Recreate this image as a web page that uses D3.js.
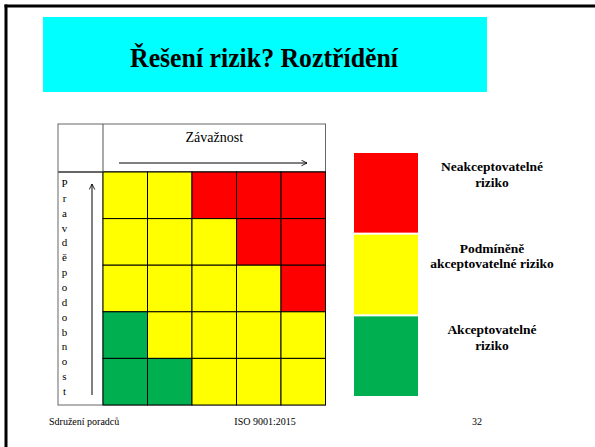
<!DOCTYPE html>
<html>
  <head>
    <title>Řešení rizik? Roztřídění</title>
    <script src="https://cdn.jsdelivr.net/npm/d3@7"></script>
    <style>
      html, body {
        margin:0;
        padding:0;
        background:#fff;
      }
      svg { display:block; }
    </style>
  </head>
  <body>
    <div id="chart"></div>
    <script>
      // matrix: rows = pravděpodobnost (top = high), columns = závažnost (left = low)
      var severity = [1, 2, 3, 4, 5];
      var probability = [5, 4, 3, 2, 1];
      var matrix = [
        ["Y", "Y", "R", "R", "R"],
        ["Y", "Y", "Y", "R", "R"],
        ["Y", "Y", "Y", "Y", "R"],
        ["G", "Y", "Y", "Y", "Y"],
        ["G", "G", "Y", "Y", "Y"]
      ];
      var levels = ["R", "Y", "G"];
      var levelColors = ["#ff0000", "#ffff00", "#00b050"];
      var levelLabels = [
        ["Neakceptovatelné", "riziko"],
        ["Podmíněně", "akceptovatelné riziko"],
        ["Akceptovatelné", "riziko"]
      ];
      var title = "Řešení rizik? Roztřídění";
      var xTitle = "Závažnost";
      var yTitle = "Pravděpodobnost";
      var footer = ["Sdružení poradců", "ISO 9001:2015", "32"];

      var FONT = "'Liberation Serif', 'Times New Roman', Times, serif";
      var W = 595, H = 447;
      var svg = d3.select("#chart").append("svg")
        .attr("width", W).attr("height", H)
        .style("font-family", FONT);

      var defs = svg.append("defs");
      defs.append("marker")
        .attr("id", "open")
        .attr("viewBox", "0 0 10 10")
        .attr("refX", 9).attr("refY", 5)
        .attr("markerWidth", 7).attr("markerHeight", 7)
        .attr("markerUnits", "userSpaceOnUse")
        .attr("orient", "auto")
        .append("path")
        .attr("d", "M1,1 L9,5 L1,9")
        .attr("fill", "none").attr("stroke", "#000").attr("stroke-width", 1.2);

      // slide frame (top and left visible)
      svg.append("line").attr("x1", 4.5).attr("x2", W).attr("y1", 6).attr("y2", 6)
        .attr("stroke", "#000").attr("stroke-width", 3);
      svg.append("line").attr("x1", 6).attr("x2", 6).attr("y1", 4.5).attr("y2", H)
        .attr("stroke", "#000").attr("stroke-width", 3);

      // title box
      svg.append("rect").attr("x", 43).attr("y", 17).attr("width", 444).attr("height", 75)
        .attr("fill", "#00ffff");
      svg.append("text").attr("x", 264).attr("y", 67)
        .attr("text-anchor", "middle").attr("font-weight", "bold").attr("font-size", 27.5)
        .attr("textLength", 268).attr("lengthAdjust", "spacingAndGlyphs")
        .style("font-family", FONT)
        .text(title);

      // matrix table
      var tbl = { left: 58, top: 124, gx: 103, gy: 172, right: 325.5, bottom: 405 };

      var x = d3.scaleBand().domain(severity).range([tbl.gx, tbl.right]);
      var y = d3.scaleBand().domain(probability).range([tbl.gy, tbl.bottom]);

      svg.append("rect")
        .attr("x", tbl.left).attr("y", tbl.top)
        .attr("width", tbl.right - tbl.left).attr("height", tbl.bottom - tbl.top)
        .attr("fill", "#fff").attr("stroke", "#666").attr("stroke-width", 1);
      svg.append("line").attr("x1", tbl.gx).attr("x2", tbl.gx).attr("y1", tbl.top).attr("y2", tbl.bottom)
        .attr("stroke", "#555").attr("stroke-width", 1);
      svg.append("line").attr("x1", tbl.left).attr("x2", tbl.right).attr("y1", tbl.gy).attr("y2", tbl.gy)
        .attr("stroke", "#666").attr("stroke-width", 2);

      var cells = [];
      probability.forEach(function(p, i) {
        severity.forEach(function(s, j) {
          cells.push({ p: p, s: s, level: matrix[i][j] });
        });
      });
      var color = d3.scaleOrdinal().domain(levels).range(levelColors);

      svg.append("g").selectAll("rect").data(cells).join("rect")
        .attr("x", function(d) { return x(d.s); })
        .attr("y", function(d) { return y(d.p); })
        .attr("width", x.bandwidth())
        .attr("height", y.bandwidth())
        .attr("fill", function(d) { return color(d.level); })
        .attr("stroke", "#000").attr("stroke-width", 1);

      // header: Závažnost + arrow
      svg.append("text").attr("x", (tbl.gx + tbl.right) / 2).attr("y", 142)
        .attr("text-anchor", "middle").attr("font-size", 14)
        .style("font-family", FONT)
        .text(xTitle);
      svg.append("line").attr("x1", 119).attr("x2", 307).attr("y1", 163).attr("y2", 163)
        .attr("stroke", "#000").attr("stroke-width", 1)
        .attr("marker-end", "url(#open)");

      // side: Pravděpodobnost letters stacked
      var letters = Array.from(yTitle);
      var ly = d3.scalePoint().domain(d3.range(letters.length)).range([183, 391]);
      svg.append("g").selectAll("text").data(letters).join("text")
        .attr("x", 64.5)
        .attr("y", function(d, i) { return ly(i) + 4; })
        .attr("text-anchor", "middle").attr("font-size", 11)
        .style("font-family", FONT)
        .text(function(d) { return d; });
      svg.append("line").attr("x1", 92).attr("x2", 92).attr("y1", 395).attr("y2", 184)
        .attr("stroke", "#000").attr("stroke-width", 1)
        .attr("marker-end", "url(#open)");

      // legend
      var lg = d3.scaleBand().domain(levels).range([153, 396]).paddingInner(0.025);
      svg.append("g").selectAll("rect").data(levels).join("rect")
        .attr("x", 354).attr("width", 64)
        .attr("y", function(d) { return lg(d); })
        .attr("height", lg.bandwidth())
        .attr("fill", function(d) { return color(d); });

      var lt = svg.append("g").selectAll("text").data(levels).join("text")
        .attr("x", 492)
        .attr("y", function(d) { return lg(d) + 18; })
        .attr("text-anchor", "middle").attr("font-weight", "bold").attr("font-size", 13.5)
        .style("font-family", FONT);
      lt.selectAll("tspan").data(function(d, i) { return levelLabels[i]; }).join("tspan")
        .attr("x", 492)
        .attr("dy", function(d, i) { return i ? 15.5 : 0; })
        .text(function(d) { return d; });

      // footer
      var ft = svg.append("g").style("font-family", FONT).attr("font-size", 10);
      ft.append("text").attr("x", 49).attr("y", 425).text(footer[0]);
      ft.append("text").attr("x", 265).attr("y", 425).attr("text-anchor", "middle").text(footer[1]);
      ft.append("text").attr("x", 482).attr("y", 425).attr("text-anchor", "end").text(footer[2]);
    </script>
  </body>
</html>
